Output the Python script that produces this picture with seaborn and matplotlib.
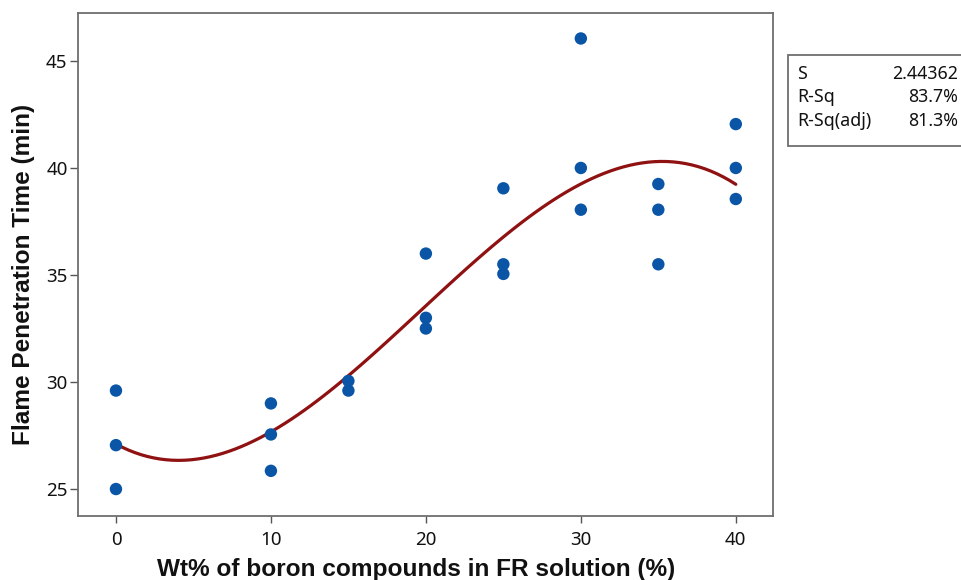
import numpy as np
import pandas as pd
import matplotlib
matplotlib.use("Agg")
import matplotlib.pyplot as plt
from matplotlib.patches import Rectangle
import seaborn as sns

# Data
wt_percent = [0, 0, 0, 10, 10, 10, 15, 15, 20, 20, 20, 25, 25, 25,
              30, 30, 30, 35, 35, 35, 40, 40, 40]
penetration_time = [29.6, 27.05, 25.0, 29.0, 27.55, 25.85, 30.05, 29.6,
                    36.0, 33.0, 32.5, 39.05, 35.5, 35.05, 46.05, 40.0, 38.05,
                    39.25, 38.05, 35.5, 42.05, 40.0, 38.55]
x_ticks = [0, 10, 20, 30, 40]
y_ticks = [25, 30, 35, 40, 45]
stat_names = ["S", "R-Sq", "R-Sq(adj)"]
stat_values = ["2.44362", "83.7%", "81.3%"]

df = pd.DataFrame({"wt": wt_percent, "time": penetration_time})

sns.set_style("white")
plt.rcParams["font.family"] = ["Noto Sans", "DejaVu Sans"]

fig = plt.figure(figsize=(9.62, 5.80), dpi=100)
ax = fig.add_axes([78 / 962, 1 - 516 / 580, (773 - 78) / 962, (516 - 13) / 580])

sns.regplot(data=df, x="wt", y="time", order=3, ci=None, scatter=False,
            truncate=True, ax=ax,
            line_kws=dict(color="#8F1111", lw=2.3, zorder=2))
sns.scatterplot(data=df, x="wt", y="time", ax=ax, color="#0A55A6",
                s=80, edgecolor="none", zorder=3)

ax.set_xlim(-2.45, 42.4)
ax.set_ylim(23.74, 47.24)
ax.set_xticks(x_ticks)
ax.set_yticks(y_ticks)
ax.tick_params(axis="x", which="major", bottom=True, direction="out",
               length=5, width=1, color="#555555", labelsize=13.5, pad=6,
               labelcolor="#111111")
ax.tick_params(axis="y", which="major", left=True, direction="out",
               length=5.5, width=1, color="#555555", labelsize=13.5, pad=2,
               labelcolor="#111111")
for side in ["top", "right", "left", "bottom"]:
    ax.spines[side].set_color("#6E6E6E")
    ax.spines[side].set_linewidth(1.3)

lab_font = dict(family=["Liberation Sans", "DejaVu Sans"], weight="bold",
                size=17.6, color="#111111")
ax.set_xlabel("Wt% of boron compounds in FR solution (%)", labelpad=6.5, **lab_font)
ax.set_ylabel("Flame Penetration Time (min)", labelpad=8, **lab_font)
ax.xaxis.label.set_x((416 - 78) / 695)
ax.yaxis.label.set_y((516 - 274.5) / 503)

# Statistics box
fig.patches.append(Rectangle((788 / 962, 1 - 146 / 580), (975 - 788) / 962,
                             (146 - 55) / 580, transform=fig.transFigure,
                             facecolor="white", edgecolor="#6E6E6E", lw=1.3))
row_y = [74, 97, 121]
for name, val, yy in zip(stat_names, stat_values, row_y):
    fig.text(797 / 962, 1 - yy / 580, name, ha="left", va="center",
             fontsize=12.8, color="#111111")
    fig.text(958 / 962, 1 - yy / 580, val, ha="right", va="center",
             fontsize=12.8, color="#111111")

fig.savefig("out.png", dpi=100)
